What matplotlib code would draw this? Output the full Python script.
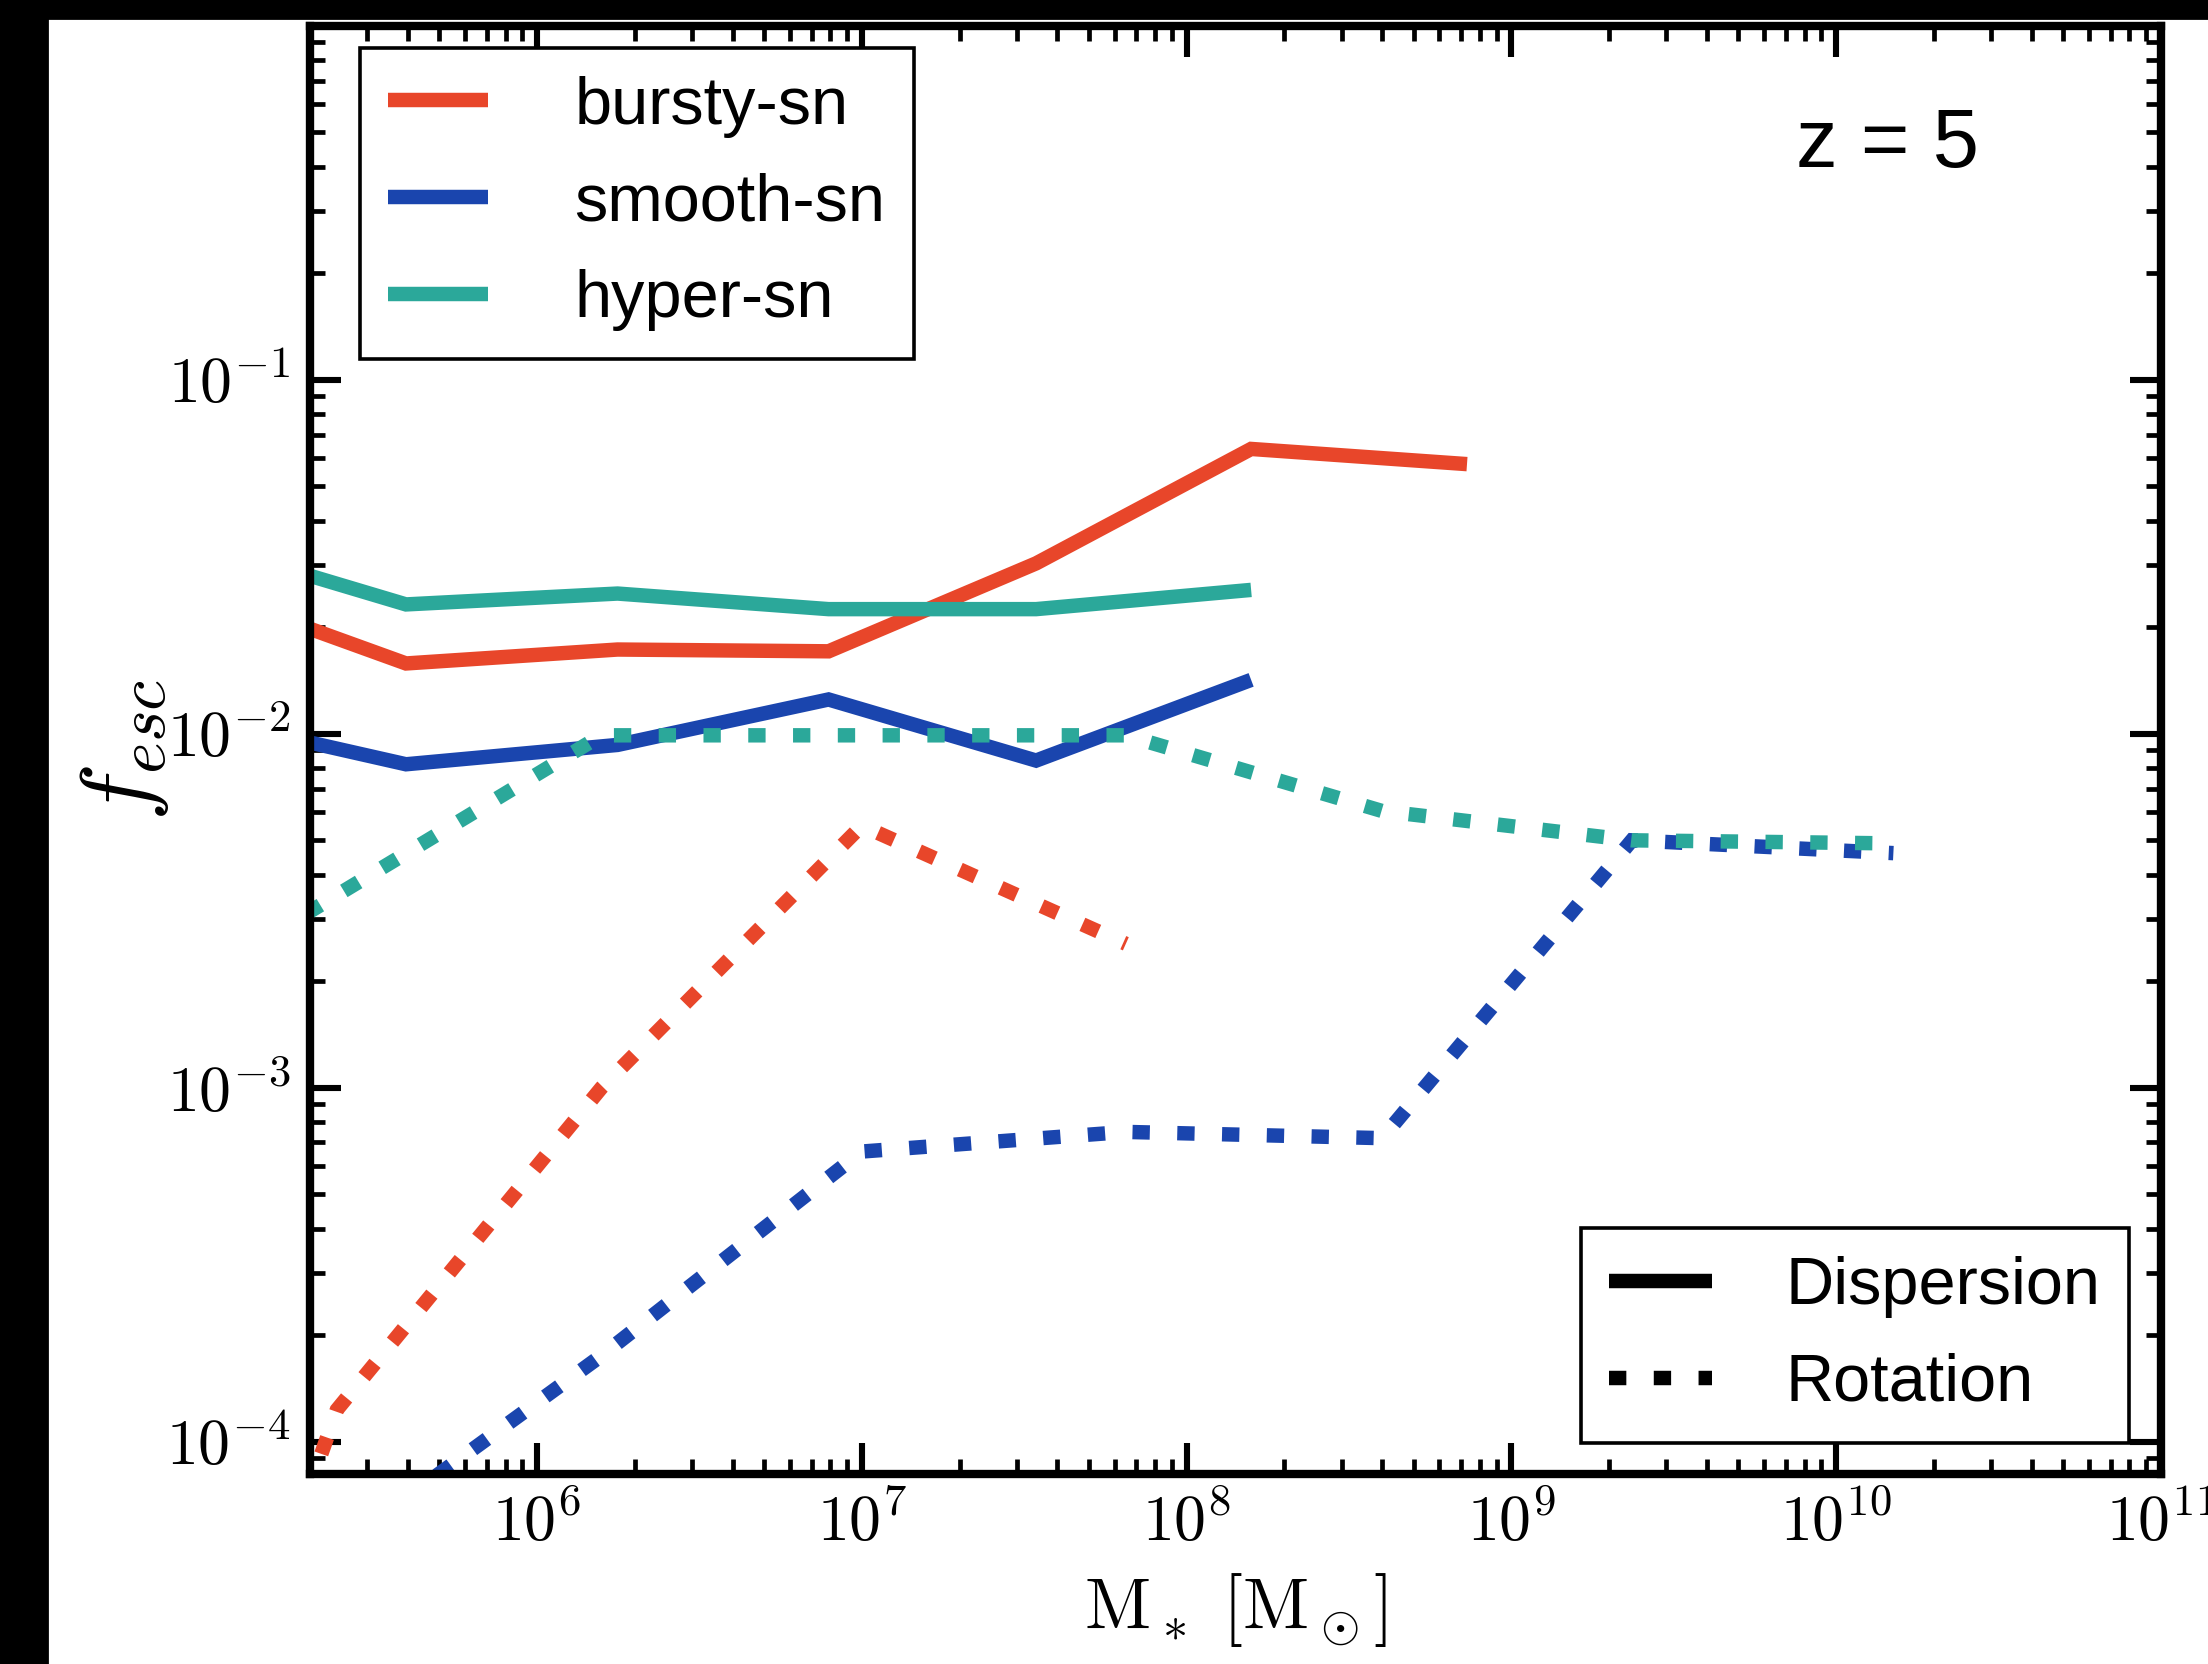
import matplotlib
matplotlib.use('Agg')
import matplotlib.pyplot as plt
import numpy as np
from matplotlib.lines import Line2D
from matplotlib.patches import Rectangle
from matplotlib.ticker import FuncFormatter, LogLocator, NullFormatter

plt.rcParams['mathtext.fontset'] = 'cm'
plt.rcParams['font.family'] = ['Liberation Sans', 'DejaVu Sans']

# stellar mass bins [Msun]
mass_disp = [8.8e4, 3.95e5, 1.77e6, 7.9e6, 3.44e7, 1.58e8, 7.3e8]
mass_rot = [3.8e4, 2.42e5, 1.58e6, 1.0e7, 6.5e7, 4.0e8, 2.35e9, 1.5e10]

# escape fractions, dispersion-dominated
bursty_disp = [0.026, 0.0158, 0.0173, 0.0171, 0.0303, 0.0638, 0.0578]
smooth_disp = [0.0112, 0.0082, 0.0093, 0.0125, 0.0084, 0.0142]
hyper_disp = [0.035, 0.0232, 0.0249, 0.0225, 0.0225, 0.0255]

# escape fractions, rotation-dominated
bursty_rot = [1e-6, 1.23e-4, 1.0e-3, 5.5e-3, 2.55e-3]
smooth_rot = [5e-6, 5.0e-5, 1.75e-4, 6.6e-4, 7.5e-4, 7.2e-4, 5.0e-3, 4.6e-3]
hyper_rot = [1.25e-3, 3.5e-3, 9.9e-3, 9.9e-3, 9.9e-3, 6.05e-3, 5.0e-3, 4.9e-3]

labels = ['bursty-sn', 'smooth-sn', 'hyper-sn']
colors = ['#e8462a', '#1a45ae', '#2ba89a']

fig = plt.figure(figsize=(11.04, 8.32), dpi=200)
ax = fig.add_axes([0.1404, 0.1142, 0.8383, 0.8702])

lw = 5.2
dotted = (0, (1.2, 1.9))

solid_lines = []
for disp, lab, c in zip([bursty_disp, smooth_disp, hyper_disp], labels, colors):
    l, = ax.plot(mass_disp[:len(disp)], disp, color=c, lw=lw, label=lab,
                 solid_capstyle='butt', solid_joinstyle='miter')
    solid_lines.append(l)

for rot, c in zip([bursty_rot, smooth_rot, hyper_rot], colors):
    ax.plot(mass_rot[:len(rot)], rot, color=c, lw=lw, linestyle=dotted,
            dash_capstyle='butt', dash_joinstyle='miter')

ax.set_xscale('log')
ax.set_yscale('log')
ax.set_xlim(2e5, 1e11)
ax.set_ylim(8.1e-5, 1.0)


def pow_label(v, p):
    e = round(np.log10(v))
    if e == 0:
        return ''
    return r'$\mathrm{10^{%d}}$' % e


fmt = FuncFormatter(pow_label)
for axis in [ax.xaxis, ax.yaxis]:
    axis.set_major_locator(LogLocator(base=10, numticks=20))
    axis.set_minor_locator(LogLocator(base=10, subs=np.arange(2, 10), numticks=100))
    axis.set_major_formatter(fmt)
    axis.set_minor_formatter(NullFormatter())

ax.tick_params(which='major', direction='in', length=11, width=2.2,
               top=True, right=True, pad=7, labelsize=23)
ax.tick_params(which='minor', direction='in', length=5.5, width=1.7,
               top=True, right=True)
for sp in ax.spines.values():
    sp.set_linewidth(3.0)

ax.set_xlabel(r'$\mathrm{M}_*\ [\mathrm{M}_\odot]$', fontsize=26, labelpad=6)
ax.set_ylabel(r'$f_{esc}$', fontsize=35, labelpad=-2)

ax.text(0.852, 0.918, 'z = 5', transform=ax.transAxes, fontsize=30,
        ha='center', va='center')

leg1 = ax.legend(handles=solid_lines, loc='upper left', bbox_to_anchor=(0.027, 0.985),
                 borderaxespad=0, fontsize=24, fancybox=False, framealpha=1,
                 edgecolor='black', handlelength=1.5, handletextpad=1.3,
                 labelspacing=0.52, borderpad=0.42)
leg1.get_frame().set_linewidth(1.3)
ax.add_artist(leg1)

style_handles = [Line2D([], [], color='black', lw=lw, solid_capstyle='butt'),
                 Line2D([], [], color='black', lw=lw, linestyle=dotted, dash_capstyle='butt')]
leg2 = ax.legend(handles=style_handles, labels=['Dispersion', 'Rotation'],
                 loc='lower right', bbox_to_anchor=(0.9825, 0.0214), borderaxespad=0,
                 fontsize=24, fancybox=False, framealpha=1, edgecolor='black',
                 handlelength=1.55, handletextpad=1.1, labelspacing=0.52, borderpad=0.42)
leg2.get_frame().set_linewidth(1.3)

# black borders of the scanned figure
fig.add_artist(Rectangle((0, 0), 0.0213, 1, transform=fig.transFigure,
                         color='black', zorder=10))
fig.add_artist(Rectangle((0, 0.989), 1, 0.011, transform=fig.transFigure,
                         color='black', zorder=10))

fig.savefig('out.png', dpi=200)
